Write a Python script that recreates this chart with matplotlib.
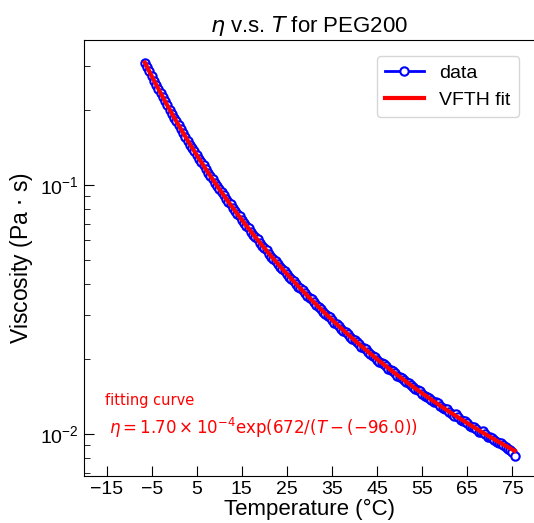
import numpy as np
from matplotlib import pyplot as plt

plt.rcParams['font.family'] = ['Liberation Sans', 'DejaVu Sans']

# measured temperatures (C) and viscosities (Pa s)
temps = [-6.5, -6.0, -5.5, -5.0, -4.5, -4.0, -3.5, -3.0, -2.5, -2.0,
         -1.5, -1.0, -0.5, 0.0, 0.5, 1.0, 1.5, 2.0, 2.5, 3.0,
         3.5, 4.0, 4.5, 5.0, 5.5, 6.0, 6.5, 7.0, 7.5, 8.0,
         8.5, 9.0, 9.5, 10.0, 10.5, 11.0, 11.5, 12.0, 12.5, 13.0,
         13.5, 14.0, 14.5, 15.0, 15.5, 16.0, 16.5, 17.0, 17.5, 18.0,
         18.5, 19.0, 19.5, 20.0, 20.5, 21.0, 21.5, 22.0, 22.5, 23.0,
         23.5, 24.0, 24.5, 25.0, 25.5, 26.0, 26.5, 27.0, 27.5, 28.0,
         28.5, 29.0, 29.5, 30.0, 30.5, 31.0, 31.5, 32.0, 32.5, 33.0,
         33.5, 34.0, 34.5, 35.0, 35.5, 36.0, 36.5, 37.0, 37.5, 38.0,
         38.5, 39.0, 39.5, 40.0, 40.5, 41.0, 41.5, 42.0, 42.5, 43.0,
         43.5, 44.0, 44.5, 45.0, 45.5, 46.0, 46.5, 47.0, 47.5, 48.0,
         48.5, 49.0, 49.5, 50.0, 50.5, 51.0, 51.5, 52.0, 52.5, 53.0,
         53.5, 54.0, 54.5, 55.0, 55.5, 56.0, 56.5, 57.0, 57.5, 58.0,
         58.5, 59.0, 59.5, 60.0, 60.5, 61.0, 61.5, 62.0, 62.5, 63.0,
         63.5, 64.0, 64.5, 65.0, 65.5, 66.0, 66.5, 67.0, 67.5, 68.0,
         68.5, 69.0, 69.5, 70.0, 70.5, 71.0, 71.5, 72.0, 72.5, 73.0,
         73.5, 74.0, 74.5, 75.0, 75.5]
visc = [0.3100, 0.2975, 0.2860, 0.2740, 0.2625, 0.2530, 0.2435, 0.2335, 0.2245, 0.2165,
        0.2090, 0.2005, 0.1930, 0.1865, 0.1805, 0.1735, 0.1670, 0.1615, 0.1565, 0.1505,
        0.1450, 0.1410, 0.1368, 0.1318, 0.1272, 0.1235, 0.1200, 0.1160, 0.1118, 0.1088,
        0.1058, 0.1022, 0.0990, 0.0962, 0.0938, 0.0908, 0.0878, 0.0856, 0.0835, 0.0808,
        0.0784, 0.0765, 0.0747, 0.0724, 0.0702, 0.0686, 0.0670, 0.0649, 0.0630, 0.0617,
        0.0604, 0.0585, 0.0569, 0.0558, 0.0546, 0.0530, 0.0515, 0.0505, 0.0495, 0.0481,
        0.0468, 0.0459, 0.0451, 0.0438, 0.0427, 0.0420, 0.0411, 0.0400, 0.0390, 0.0384,
        0.0378, 0.0367, 0.0357, 0.0352, 0.0347, 0.0338, 0.0330, 0.0324, 0.0318, 0.0310,
        0.0303, 0.0299, 0.0294, 0.0287, 0.0280, 0.0276, 0.0272, 0.0265, 0.0259, 0.0256,
        0.0252, 0.0246, 0.0240, 0.0238, 0.0235, 0.0229, 0.0224, 0.0221, 0.0219, 0.0214,
        0.0209, 0.0206, 0.0204, 0.0199, 0.0195, 0.0193, 0.0191, 0.0187, 0.0183, 0.0181,
        0.0179, 0.0175, 0.0171, 0.0169, 0.0168, 0.0164, 0.0161, 0.0160, 0.0158, 0.0155,
        0.0151, 0.0150, 0.0149, 0.0145, 0.0142, 0.0141, 0.0140, 0.0137, 0.0134, 0.0134,
        0.0133, 0.0130, 0.0127, 0.0126, 0.0126, 0.0123, 0.0120, 0.0118, 0.0120, 0.0117,
        0.0114, 0.0113, 0.0113, 0.0111, 0.0108, 0.0107, 0.0107, 0.0105, 0.0102, 0.0102,
        0.0103, 0.0100, 0.00975, 0.00968, 0.00965, 0.00950, 0.00930, 0.00922, 0.00918, 0.00906,
        0.00890, 0.00872, 0.00860, 0.00845, 0.00815]

# VFTH fit parameters shown on the chart
A = 1.70e-4
B = 672
T0 = -96.0

fig = plt.figure(figsize=(5.34, 5.23), dpi=100)
ax = fig.add_axes([84 / 534, 47 / 523, 451 / 534, 436 / 523])

t_fit = np.linspace(temps[0], temps[-1], 300)
eta_fit = A * np.exp(B / (t_fit - T0))

ax.plot(temps, visc, '-o', color='blue', lw=2, ms=6, mfc='white', mec='blue', mew=1.5, label='data')
ax.plot(t_fit, eta_fit, color='red', lw=3, label='VFTH fit')

ax.set_yscale('log')
ax.set_xlim(-20, 80)
ax.set_ylim(0.00678, 0.382)
ax.set_xticks(np.arange(-15, 80, 10))
ax.tick_params(axis='both', which='both', direction='in', labelsize=14)
ax.tick_params(axis='both', which='major', length=7)
ax.tick_params(axis='y', which='minor', length=4)
ax.spines['right'].set_visible(False)

ax.set_title(r'$\eta$ v.s. $T$ for PEG200', fontsize=16)
ax.set_xlabel('Temperature (°C)', fontsize=16, labelpad=1)
ax.set_ylabel(r'Viscosity (Pa $\cdot$ s)', fontsize=16.5)

ax.text(-15.3, 0.0131, 'fitting curve', color='red', fontsize=10.5, family=['DejaVu Sans'])
ax.text(-14.5, 0.0100, r'$\eta = 1.70 \times 10^{-4} \exp(672/(T - (-96.0))$',
        color='red', fontsize=12, family=['DejaVu Sans'])

ax.legend(loc='upper right', fontsize=14, bbox_to_anchor=(0.985, 0.985))

fig.savefig('out.png', dpi=100)
